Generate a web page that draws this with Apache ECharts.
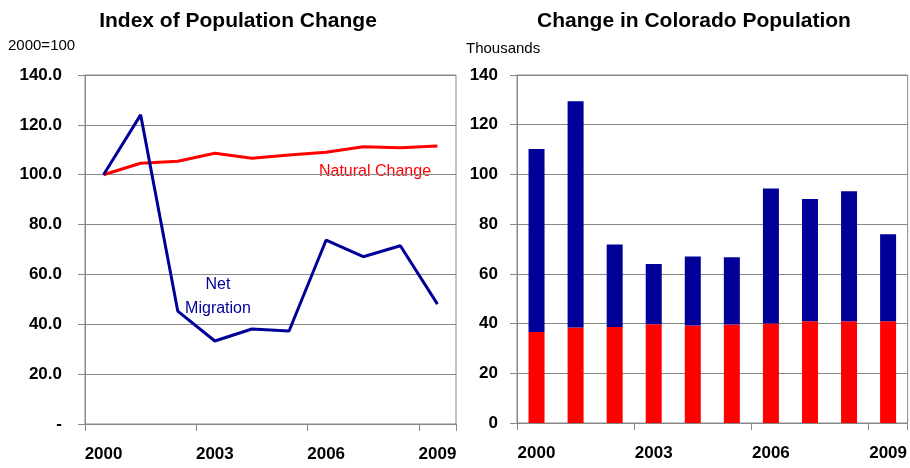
<!DOCTYPE html>
<html>
<head>
<meta charset="utf-8">
<script src="https://cdn.jsdelivr.net/npm/echarts@6/dist/echarts.min.js"></script>
<style>
  html, body { margin: 0; padding: 0; background: #fff; }
  #chart { width: 910px; height: 468px; }
</style>
</head>
<body>
<div id="chart"></div>
<script>
// data
const years = ['2000', '2001', '2002', '2003', '2004', '2005', '2006', '2007', '2008', '2009'];
const indexNatural = [100, 104.6, 105.4, 108.6, 106.6, 107.9, 109.0, 111.2, 110.8, 111.5];
const indexMigration = [100, 124, 45.3, 33.3, 38.1, 37.3, 73.8, 67.1, 71.5, 48.1];
const popNatural = [36.6, 38.4, 38.6, 39.7, 39.2, 39.6, 40.0, 40.9, 40.9, 40.9];
const popMigration = [73.6, 91.0, 33.2, 24.3, 27.8, 27.1, 54.3, 49.2, 52.3, 35.0];

const RED = '#ff0000';
const BLUE = '#000099';
const FONT = 'Liberation Sans, Arial, sans-serif';

const chart = echarts.init(document.getElementById('chart'));

function xAxisFor(gridIndex) {
	return {
		type: 'category',
		gridIndex: gridIndex,
		data: years,
		boundaryGap: true,
		axisLine: { lineStyle: { color: '#888', width: 1 } },
		axisTick: { show: true, length: 7, inside: false, lineStyle: { color: '#888' } },
		axisLabel: {
			interval: function (i) { return i % 3 === 0; },
			color: '#000', fontFamily: FONT, fontWeight: 'bold', fontSize: 17, margin: 22,
		},
		splitLine: { show: false },
	};
}

function yAxisFor(gridIndex, fmt, margin) {
	return {
		type: 'value',
		gridIndex: gridIndex,
		min: 0,
		max: 140,
		interval: 20,
		axisLine: { show: true, lineStyle: { color: '#888' } },
		axisTick: { show: true, length: 7, lineStyle: { color: '#888' } },
		axisLabel: {
			formatter: fmt,
			color: '#000', fontFamily: FONT, fontWeight: 'bold', fontSize: 17, margin: margin,
		},
		splitLine: { show: true, lineStyle: { color: '#888', width: 1 } },
	};
}

const option = {
	animation: false,
	backgroundColor: '#fff',
	title: [
		{
			text: 'Index of Population Change',
			left: 233, top: 6, textAlign: 'center',
			textStyle: { fontFamily: FONT, fontWeight: 'bold', fontSize: 21, color: '#000' },
		},
		{
			text: 'Change in Colorado Population',
			left: 689, top: 6, textAlign: 'center',
			textStyle: { fontFamily: FONT, fontWeight: 'bold', fontSize: 21, color: '#000' },
		},
	],
	grid: [
		{ left: 85, right: 454, top: 75, bottom: 44, show: true, borderColor: '#888', borderWidth: 1 },
		{ left: 517, right: 2, top: 75, bottom: 45, show: true, borderColor: '#888', borderWidth: 1 },
	],
	xAxis: [xAxisFor(0), xAxisFor(1)],
	yAxis: [
		yAxisFor(0, function (v) { return v === 0 ? '-' : v.toFixed(1); }, 23),
		yAxisFor(1, function (v) { return String(v); }, 19),
	],
	graphic: [
		{ type: 'text', x: 8, y: 46, style: { text: '2000=100', font: '15px ' + FONT, fill: '#000', verticalAlign: 'middle' } },
		{ type: 'text', x: 466, y: 49, style: { text: 'Thousands', font: '15px ' + FONT, fill: '#000', verticalAlign: 'middle' } },
		{ type: 'text', x: 375, y: 172, style: { text: 'Natural Change', font: '16px ' + FONT, fill: RED, align: 'center', verticalAlign: 'middle' } },
		{ type: 'text', x: 218, y: 297, style: { text: 'Net\nMigration', font: '16px ' + FONT, fill: BLUE, align: 'center', verticalAlign: 'middle', lineHeight: 24 } },
	],
	series: [
		{
			name: 'Natural Change', type: 'line', xAxisIndex: 0, yAxisIndex: 0,
			data: indexNatural, symbol: 'none', lineStyle: { color: RED, width: 3 }, z: 3,
		},
		{
			name: 'Net Migration', type: 'line', xAxisIndex: 0, yAxisIndex: 0,
			data: indexMigration, symbol: 'none', lineStyle: { color: BLUE, width: 3 }, z: 3,
		},
		{
			name: 'Natural Change', type: 'bar', xAxisIndex: 1, yAxisIndex: 1, stack: 'pop',
			data: popNatural, barWidth: 16, itemStyle: { color: RED },
		},
		{
			name: 'Net Migration', type: 'bar', xAxisIndex: 1, yAxisIndex: 1, stack: 'pop',
			data: popMigration, barWidth: 16, itemStyle: { color: BLUE },
		},
	],
};

chart.setOption(option);
</script>
</body>
</html>
